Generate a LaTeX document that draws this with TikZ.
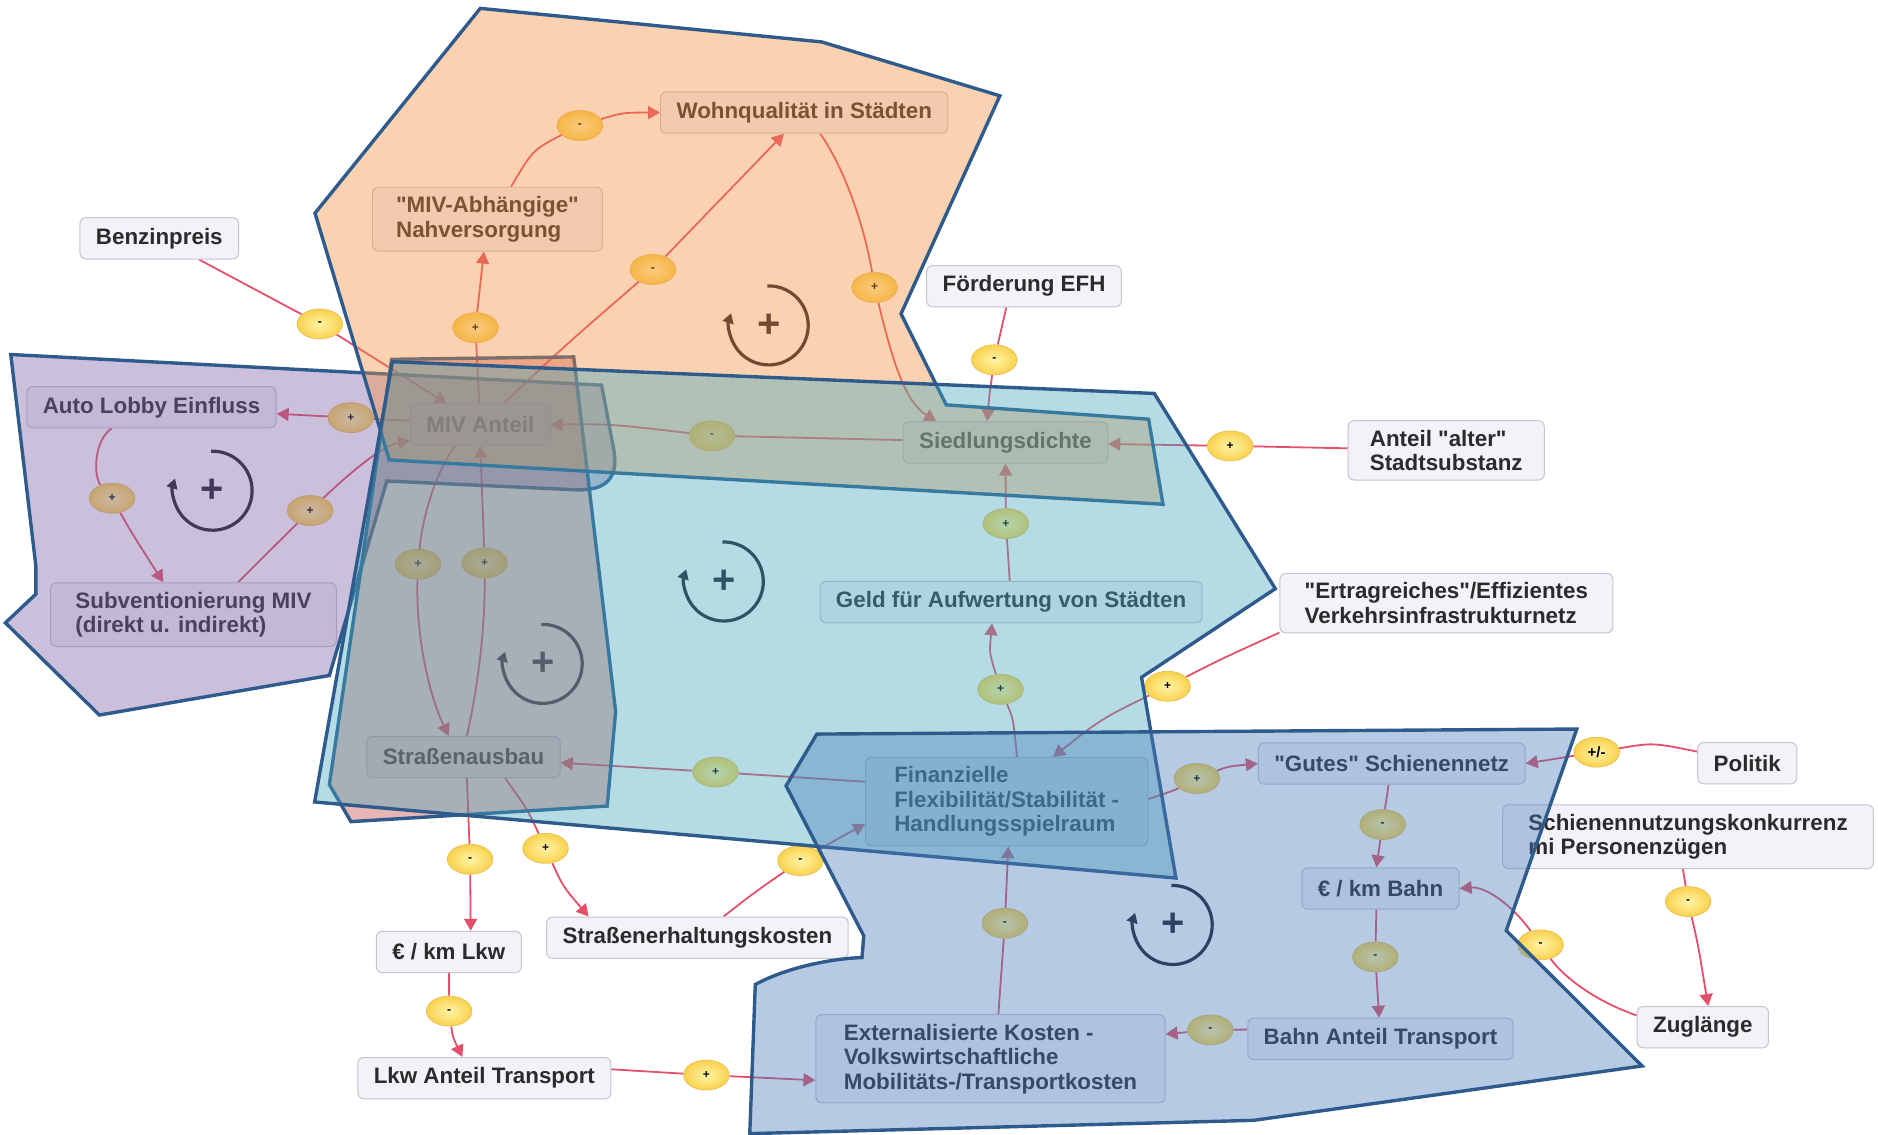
\documentclass[tikz,border=0pt]{standalone}
\usepackage{fontspec}
\setmainfont{Liberation Sans}[Ligatures=TeXOff]
\usetikzlibrary{arrows.meta,shapes.geometric}
\pgfdeclarelayer{links}
\pgfsetlayers{links,main}
\definecolor{boxfill}{HTML}{F2F2F8}
\definecolor{boxline}{HTML}{C4C4CE}
\definecolor{boxtext}{HTML}{2B2B2B}
\definecolor{polin}{HTML}{FFF3A6}
\definecolor{polout}{HTML}{F9D24E}
\definecolor{polline}{HTML}{E9C158}
\definecolor{linkred}{HTML}{E4506A}
\definecolor{regline}{HTML}{2E5A8C}
\definecolor{loopdark}{HTML}{1C1C28}
\definecolor{purfill}{HTML}{7D62A5}
\definecolor{pinkfill}{HTML}{C54646}
\definecolor{orfill}{HTML}{F38E3F}
\definecolor{lbfill}{HTML}{46A8BC}
\definecolor{blfill}{HTML}{487DB9}
\newcommand\boxfont{\fontsize{11.2}{12.3}\selectfont\bfseries}
\newcommand\signfont{\fontsize{6}{6}\selectfont\bfseries}
\newcommand\loopfont{\fontsize{20}{20}\selectfont\bfseries}

\begin{document}
\begin{tikzpicture}[x=0.6pt,y=-0.6pt,
    var/.style={draw=boxline,fill=boxfill,rounded corners=3pt,line width=0.5pt,text=boxtext,font=\boxfont,inner xsep=8pt,inner ysep=4.6pt,minimum height=20.7pt,align=left},
    pol/.style={ellipse,draw=polline,line width=0.4pt,inner sep=0pt,minimum width=22.8pt,minimum height=15pt,shading=radial,inner color=polin,outer color=polout,font=\signfont,text=black},
    cause/.style={draw=linkred,line width=0.9pt},
    causearrow/.style={cause,-{Triangle[length=6pt,width=6.5pt]}},
    region/.style={draw=regline,line width=1.7pt,miter limit=4,fill opacity=0.4},
    loopc/.style={draw=loopdark,line width=1.6pt,-{Triangle[length=5pt,width=5.5pt]}},
    loopsign/.style={font=\loopfont,text=loopdark,inner sep=0pt}]
\useasboundingbox (0,0) rectangle (1568,947);

\node[var] (benz) at (133,199) {Benzinpreis};
\node[var,minimum width=115.2pt] (nahv) at (407,183) {"MIV-Abhängige"\\Nahversorgung};
\node[var] (wohn) at (671.5,94) {Wohnqualität in Städten};
\node[var] (efh) at (855,239) {Förderung EFH};
\node[var] (lobby) at (126.5,340) {Auto Lobby Einfluss};
\node[var] (miv) at (401,354.5) {MIV Anteil};
\node[var] (sied) at (839.5,369.4) {Siedlungsdichte};
\node[var,minimum width=98.2pt] (alt) at (1207.5,376) {Anteil "alter"\\Stadtsubstanz};
\node[var,minimum width=143.1pt] (subv) at (161.5,513.2) {Subventionierung MIV\\(direkt u. indirekt)};
\node[var] (geld) at (844.2,502.7) {Geld für Aufwertung von Städten};
\node[var,minimum width=166.8pt] (ertrag) at (1207.6,503.6) {"Ertragreiches"/Effizientes\\Verkehrsinfrastrukturnetz};
\node[var] (ausbau) at (387,632) {Straßenausbau};
\node[var,minimum width=141.4pt] (finanz) at (840.5,669.3) {Finanzielle\\Flexibilität/Stabilität -\\Handlungsspielraum};
\node[var] (gutes) at (1162,637.5) {"Gutes" Schienennetz};
\node[var] (politik) at (1458.8,637.2) {Politik};
\node[var,minimum width=185.7pt] (konk) at (1409.4,698.6) {Schienennutzungskonkurrenz\\mi Personenzügen};
\node[var] (bahnkm) at (1152.6,741.8) {€ / km Bahn};
\node[var] (lkwkm) at (374.7,794.8) {€ / km Lkw};
\node[var] (erhalt) at (582.3,782.9) {Straßenerhaltungskosten};
\node[var] (zug) at (1421.7,857.6) {Zuglänge};
\node[var] (bahnant) at (1152.6,867.4) {Bahn Anteil Transport};
\node[var,minimum width=174.9pt] (extern) at (827,884) {Externalisierte Kosten -\\Volkswirtschaftliche\\Mobilitäts-/Transportkosten};
\node[var] (lkwant) at (404.4,900.2) {Lkw Anteil Transport};

\node[pol] (p1) at (267,270.5) {-};
\node[pol] (p2) at (397,273.6) {+};
\node[pol] (p3) at (484.2,104.8) {-};
\node[pol] (p4) at (545.1,225) {-};
\node[pol] (p5) at (730.2,240) {+};
\node[pol] (p6) at (830.2,300.4) {-};
\node[pol] (p7) at (594.4,363.8) {-};
\node[pol] (p8) at (1027.1,372.3) {+};
\node[pol] (p9) at (292.9,348.7) {+};
\node[pol] (p10) at (93.6,416) {+};
\node[pol] (p11) at (259,426.3) {+};
\node[pol] (p12) at (349,471) {+};
\node[pol] (p13) at (404.6,470) {+};
\node[pol] (p14) at (597.4,644.6) {+};
\node[pol] (p15) at (455.5,708.3) {+};
\node[pol] (p16) at (668.3,718.6) {-};
\node[pol] (p17) at (392.5,717.4) {-};
\node[pol] (p18) at (375,844.2) {-};
\node[pol] (p19) at (589.8,897.6) {+};
\node[pol] (p20) at (839,770.8) {-};
\node[pol] (p21) at (835.4,575.5) {+};
\node[pol] (p22) at (839.9,437.2) {+};
\node[pol] (p23) at (974.9,573) {+};
\node[pol] (p24) at (999.3,650) {+};
\node[pol,font=\fontsize{7.5}{8}\selectfont\bfseries] (p25) at (1333.1,628) {+/-};
\node[pol] (p26) at (1154.4,688.4) {-};
\node[pol] (p27) at (1148.3,798.9) {-};
\node[pol] (p28) at (1010.5,859.9) {-};
\node[pol] (p29) at (1286.3,788.9) {-};
\node[pol] (p30) at (1409.5,752.7) {-};

\begin{pgfonlayer}{links}
\draw[cause] (benz) -- (p1); \draw[causearrow] (p1) -- (miv);
\draw[cause] (miv) -- (p2); \draw[causearrow] (p2) -- (nahv);
\draw[cause] (nahv.54) .. controls (445,125) .. (p3); \draw[causearrow] (p3) .. controls (520,94) .. (wohn.west);
\draw[cause] (miv.42) .. controls (470,290) .. (p4); \draw[causearrow] (p4) -- (wohn);
\draw[cause] (wohn.-53) .. controls (705,140) and (722,190) .. (p5); \draw[causearrow] (p5) .. controls (745,300) and (755,335) .. (sied.163);
\draw[cause] (efh.-130) -- (p6); \draw[causearrow] (p6) .. controls (826,330) .. (sied.131);
\draw[cause] (sied) -- (p7); \draw[causearrow] (p7) .. controls (510,354) .. (miv.east);
\draw[cause] (alt) -- (p8); \draw[causearrow] (p8) -- (sied);
\draw[cause] (miv) -- (p9); \draw[causearrow] (p9) -- (lobby);
\draw[cause] (lobby.208) .. controls (78,368) and (78,398) .. (p10); \draw[causearrow] (p10) .. controls (110,445) .. (subv.133);
\draw[cause] (subv.36) .. controls (225,460) .. (p11); \draw[causearrow] (p11) .. controls (295,392) and (320,372) .. (miv.193);
\draw[cause] (miv.220) .. controls (360,400) and (352,440) .. (p12); \draw[causearrow] (p12) .. controls (347,530) and (358,580) .. (ausbau.125);
\draw[cause] (ausbau.81) .. controls (400,570) and (405,520) .. (p13); \draw[causearrow] (p13) .. controls (403,420) .. (miv.south);
\draw[cause] (finanz.172) -- (p14); \draw[causearrow] (p14) -- (ausbau);
\draw[cause] (ausbau.-27) .. controls (440,675) .. (p15); \draw[causearrow] (p15) .. controls (470,740) .. (erhalt.169);
\draw[cause] (erhalt.39) .. controls (630,745) .. (p16); \draw[causearrow] (p16) .. controls (700,700) .. (finanz.189);
\draw[cause] (ausbau.-81) -- (p17); \draw[causearrow] (p17) -- (lkwkm.44);
\draw[cause] (lkwkm) -- (p18); \draw[causearrow] (p18) .. controls (378,866) .. (lkwant.136);
\draw[cause] (lkwant.4) -- (p19); \draw[causearrow] (p19) -- (extern.187);
\draw[cause] (extern.80) -- (p20); \draw[causearrow] (p20) -- (finanz.-88);
\draw[cause] (finanz.77) .. controls (846,600) .. (p21); \draw[causearrow] (p21) .. controls (826,545) .. (geld.228);
\draw[cause] (geld) -- (p22); \draw[causearrow] (p22) -- (sied.south);
\draw[cause] (ertrag.190) .. controls (1020,550) .. (p23); \draw[causearrow] (p23) .. controls (920,600) .. (finanz.44);
\draw[cause] (finanz.1) .. controls (980,660) .. (p24); \draw[causearrow] (p24) .. controls (1025,640) .. (gutes.west);
\draw[cause] (politik.167) .. controls (1380,620) .. (p25); \draw[causearrow] (p25) -- (gutes.east);
\draw[cause] (gutes) -- (p26); \draw[causearrow] (p26) -- (bahnkm.101);
\draw[cause] (bahnkm.259) -- (p27); \draw[causearrow] (p27) -- (bahnant);
\draw[cause] (bahnant.176) -- (p28); \draw[causearrow] (p28) -- (extern.8);
\draw[cause] (zug.170) .. controls (1330,835) and (1305,815) .. (p29); \draw[causearrow] (p29) .. controls (1262,755) and (1240,740) .. (bahnkm.east);
\draw[cause] (konk.261) -- (p30); \draw[causearrow] (p30) .. controls (1418,790) .. (zug.76);
\end{pgfonlayer}

\foreach \n/\x/\y in {l1/641.8/271.7, l2/177.5/409.7, l3/604.3/485.5, l4/453.1/554.3, l5/979.1/772.3}{
  \node[loopsign] (\n) at (\x,\y) {+};
  \draw[loopc] ([shift={(92:19.8pt)}]\n.center) arc[start angle=92,end angle=-198,radius=19.8pt];
}

\draw[region,fill=purfill] (9,296) -- (502.3,321.6) -- (512.8,377.4) .. controls (516,400) and (505,409.5) .. (482,409) -- (323,401.6) -- (275,564) -- (83,597) -- (4.5,520) -- (30,496) -- (30,473) -- cycle;
\draw[region,fill=pinkfill] (327,300) -- (479,298) -- (514,594) -- (507,673) -- (293,686) -- (275,655) -- cycle;
\draw[region,fill=orfill] (401,7) -- (686,35) -- (834.8,80) -- (752.3,262) -- (790,338) -- (959,350) -- (971,421) -- (325,384) -- (263,178) -- cycle;
\draw[region,fill=lbfill] (327.6,302) -- (963.7,328.5) -- (1064.8,491.5) -- (953.1,565.5) -- (981.8,733.1) -- (262.7,669.6) -- cycle;
\draw[region,fill=blfill] (682,612.9) -- (1316.5,608.7) -- (1257.6,776.9) -- (1371,890) -- (1046.7,935.4) -- (626,946.5) -- (630.6,822) .. controls (660,806) and (700,800) .. (719.7,799.5) -- (721.2,781.4) -- (656.3,656.1) -- cycle;
\end{tikzpicture}
\end{document}
